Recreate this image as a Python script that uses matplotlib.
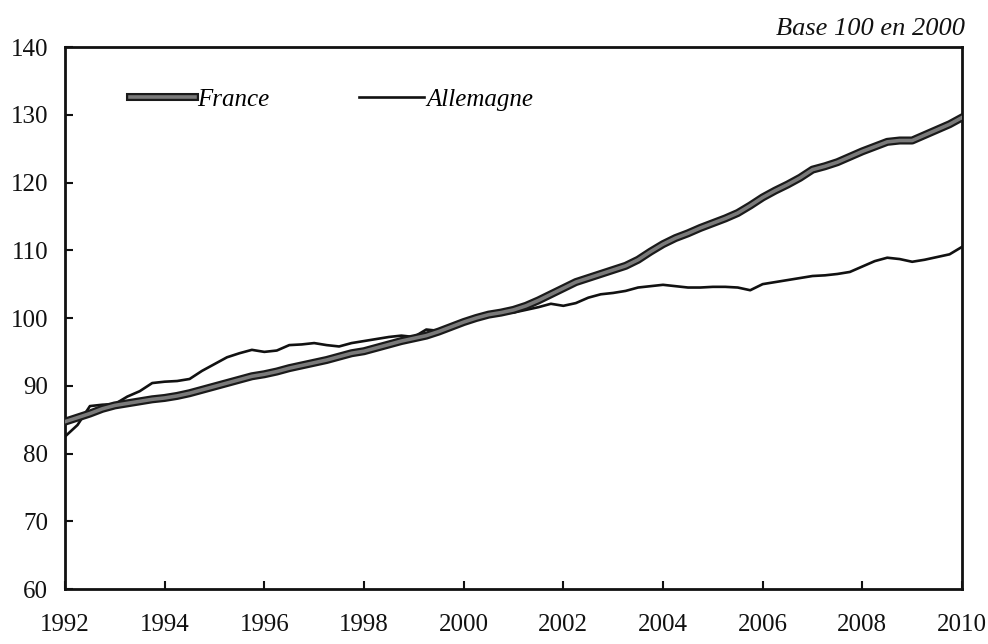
import numpy as np
import matplotlib
matplotlib.use("Agg")
import matplotlib.pyplot as plt
import matplotlib.patheffects as pe
from matplotlib.lines import Line2D

start_year = 1992
france = [84.7, 85.3, 85.9, 86.6,
          87.1, 87.4, 87.7, 88.0,
          88.2, 88.5, 88.9, 89.4,
          89.9, 90.4, 90.9, 91.4,
          91.7, 92.1, 92.6, 93.0,
          93.4, 93.8, 94.3, 94.8,
          95.1, 95.6, 96.1, 96.6,
          97.0, 97.4, 98.0, 98.7,
          99.4, 100.0, 100.5, 100.8,
          101.2, 101.8, 102.6, 103.5,
          104.4, 105.3, 105.9, 106.5,
          107.1, 107.7, 108.6, 109.8,
          110.9, 111.8, 112.5, 113.3,
          114.0, 114.7, 115.5, 116.6,
          117.8, 118.8, 119.7, 120.7,
          121.9, 122.4, 123.0, 123.8,
          124.6, 125.3, 126.0, 126.2,
          126.2, 127.0, 127.8, 128.6,
          129.6]
allemagne = [82.5, 84.2, 87.0, 87.2,
             87.3, 88.4, 89.2, 90.4,
             90.6, 90.7, 91.0, 92.2,
             93.2, 94.2, 94.8, 95.3,
             95.0, 95.2, 96.0, 96.1,
             96.3, 96.0, 95.8, 96.3,
             96.6, 96.9, 97.2, 97.4,
             97.2, 98.3, 98.1, 99.0,
             99.5, 100.0, 100.3, 100.7,
             100.8, 101.2, 101.6, 102.1,
             101.8, 102.2, 103.0, 103.5,
             103.7, 104.0, 104.5, 104.7,
             104.9, 104.7, 104.5, 104.5,
             104.6, 104.6, 104.5, 104.1,
             105.0, 105.3, 105.6, 105.9,
             106.2, 106.3, 106.5, 106.8,
             107.6, 108.4, 108.9, 108.7,
             108.3, 108.6, 109.0, 109.4,
             110.5]
x_ticks = [1992, 1994, 1996, 1998, 2000, 2002, 2004, 2006, 2008, 2010]
y_ticks = [60, 70, 80, 90, 100, 110, 120, 130, 140]

t = start_year + np.arange(len(france)) * 0.25

plt.rcParams['font.family'] = ['Liberation Serif', 'DejaVu Serif']

fig = plt.figure(figsize=(9.88, 6.44), dpi=100)
ax = fig.add_axes([0.0658, 0.0854, 0.9079, 0.8416])

fr_effects = [pe.Stroke(linewidth=5.8, foreground='#1a1a1a'), pe.Normal()]
ax.plot(t, allemagne, color='#111111', lw=1.9, label='Allemagne', zorder=3)
ax.plot(t, france, color='#7a7a7a', lw=2.6, label='France', zorder=4,
        path_effects=fr_effects)

ax.set_xlim(1992, 2010)
ax.set_ylim(60, 140)
ax.set_xticks(x_ticks)
ax.set_yticks(y_ticks)
ax.tick_params(axis='both', direction='in', length=6, width=1.5,
               labelsize=18, colors='#111111')
ax.tick_params(axis='x', pad=18)
ax.tick_params(axis='y', pad=12)
for s in ax.spines.values():
    s.set_linewidth(2.0)
    s.set_color('#111111')

h_fr = Line2D([], [], color='#7a7a7a', lw=2.6, path_effects=fr_effects)
h_de = Line2D([], [], color='#111111', lw=1.9)
ax.legend([h_fr, h_de], ['France', 'Allemagne'], loc='upper left',
          bbox_to_anchor=(0.072, 0.924), ncol=2, frameon=False,
          borderpad=0, borderaxespad=0, handlelength=2.6, handletextpad=0.1,
          columnspacing=3.6, prop={'style': 'italic', 'size': 18})

fig.text(0.977, 0.955, 'Base 100 en 2000', ha='right', va='center',
         fontsize=19, style='italic', color='#111111')

fig.savefig('out.png', dpi=100)
